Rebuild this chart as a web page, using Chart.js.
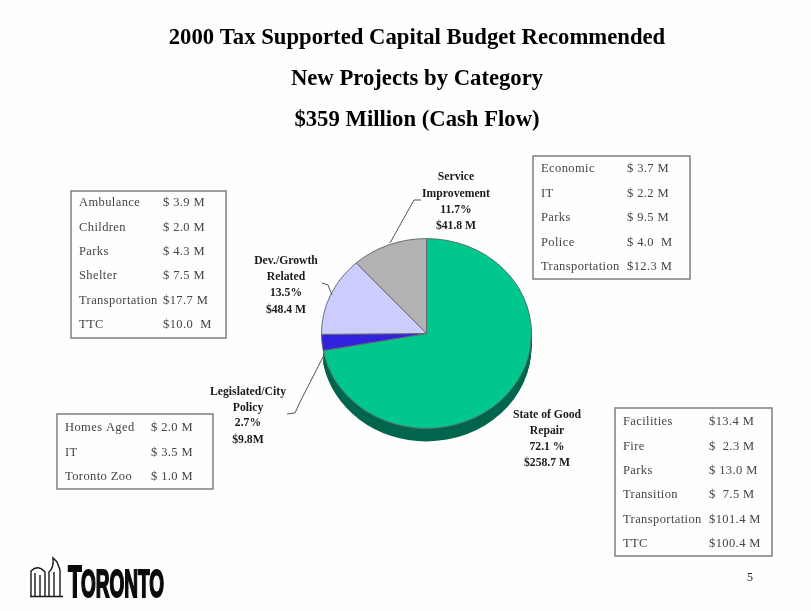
<!DOCTYPE html>
<html>
<head>
<meta charset="utf-8">
<title>2000 Tax Supported Capital Budget</title>
<script src="https://cdn.jsdelivr.net/npm/chart.js@4"></script>
<style>
html, body { margin: 0; padding: 0; background: #fefefe; }
canvas { display: block; filter: blur(0.5px); }
</style>
</head>
<body>
<canvas id="budgetChart" width="811" height="611"></canvas>
<script>
// slices, clockwise from 12 o'clock
let categories = ['State of Good Repair', 'Legislated/City Policy', 'Dev./Growth Related', 'Service Improvement'];
let cashFlow = [258.7, 9.8, 48.4, 41.8];
let sliceColors = ['#00c78c', '#3322dd', '#ccccff', '#b2b2b2'];

let titleLines = ['2000 Tax Supported Capital Budget Recommended', 'New Projects by Category', '$359 Million (Cash Flow)'];

let goodRepairLabel = ['State of Good', 'Repair', '72.1 %', '$258.7 M'];
let legislatedLabel = ['Legislated/City', 'Policy', '2.7%', '$9.8M'];
let growthLabel = ['Dev./Growth', 'Related', '13.5%', '$48.4 M'];
let serviceLabel = ['Service', 'Improvement', '11.7%', '$41.8 M'];

let growthItems = ['Ambulance', 'Children', 'Parks', 'Shelter', 'Transportation', 'TTC'];
let growthAmounts = ['$ 3.9 M', '$ 2.0 M', '$ 4.3 M', '$ 7.5 M', '$17.7 M', '$10.0  M'];
let serviceItems = ['Economic', 'IT', 'Parks', 'Police', 'Transportation'];
let serviceAmounts = ['$ 3.7 M', '$ 2.2 M', '$ 9.5 M', '$ 4.0  M', '$12.3 M'];
let legislatedItems = ['Homes Aged', 'IT', 'Toronto Zoo'];
let legislatedAmounts = ['$ 2.0 M', '$ 3.5 M', '$ 1.0 M'];
let repairItems = ['Facilities', 'Fire', 'Parks', 'Transition', 'Transportation', 'TTC'];
let repairAmounts = ['$13.4 M', '$  2.3 M', '$ 13.0 M', '$  7.5 M', '$101.4 M', '$100.4 M'];

const SERIF = '"Liberation Serif", serif';
const SQUASH = 0.904;   // the pie is drawn tilted, so it is wider than tall
const DEPTH = 13;

function drawTable(ctx, box, items, amounts) {
    ctx.strokeStyle = '#7f7f7f';
    ctx.lineWidth = 1.5;
    ctx.strokeRect(box.x, box.y, box.w, box.h);
    ctx.fillStyle = '#444444';
    ctx.font = '12.5px ' + SERIF;
    ctx.textAlign = 'left';
    ctx.textBaseline = 'middle';
    ctx.letterSpacing = '0.4px';
    items.forEach(function(item, i) {
        let y = box.firstRow + i * box.rowGap;
        ctx.fillText(item, box.x + 8, y);
        ctx.fillText(amounts[i], box.valueX, y);
    });
    ctx.letterSpacing = '0px';
}

function drawLabel(ctx, lines, x, ys) {
    ctx.fillStyle = '#1a1a1a';
    ctx.font = 'bold 11.7px ' + SERIF;
    ctx.textAlign = 'center';
    ctx.textBaseline = 'middle';
    lines.forEach(function(line, i) {
        ctx.fillText(line, x, ys[i]);
    });
}

function drawLeader(ctx, points) {
    ctx.strokeStyle = '#555555';
    ctx.lineWidth = 1;
    ctx.beginPath();
    points.forEach(function(p, i) {
        if (i === 0) {
            ctx.moveTo(p[0], p[1]);
        } else {
            ctx.lineTo(p[0], p[1]);
        }
    });
    ctx.stroke();
}

function drawLogo(ctx) {
    ctx.strokeStyle = '#1a1a1a';
    ctx.lineWidth = 1.4;
    ctx.beginPath();
    // city hall towers and podium
    ctx.moveTo(30, 596.5); ctx.lineTo(63, 596.5);
    ctx.moveTo(31, 596); ctx.lineTo(31, 571); ctx.quadraticCurveTo(38, 564, 45, 572); ctx.lineTo(45, 596);
    ctx.moveTo(35, 596); ctx.lineTo(35, 573);
    ctx.moveTo(40, 596); ctx.lineTo(40, 575);
    ctx.moveTo(49, 596); ctx.lineTo(49, 572); ctx.quadraticCurveTo(54, 568, 53, 558); ctx.lineTo(57, 562); ctx.lineTo(60, 570); ctx.lineTo(60, 596);
    ctx.moveTo(54, 596); ctx.lineTo(54, 572);
    ctx.stroke();

    ctx.fillStyle = '#0a0a0a';
    ctx.strokeStyle = '#0a0a0a';
    ctx.lineWidth = 2;
    ctx.textAlign = 'left';
    ctx.textBaseline = 'alphabetic';
    ctx.save();
    ctx.translate(68, 597);
    ctx.scale(0.5, 1);
    ctx.font = 'bold 45px "Liberation Sans", sans-serif';
    ctx.fillText('T', 0, 0);
    ctx.strokeText('T', 0, 0);
    ctx.font = 'bold 38px "Liberation Sans", sans-serif';
    ctx.fillText('ORONTO', 26, 0);
    ctx.strokeText('ORONTO', 26, 0);
    ctx.restore();
}

// flattens the arcs and lays the darker side wall under them
let tiltPlugin = {
    id: 'tilt',
    beforeDatasetsDraw: function(chart) {
        let ctx = chart.ctx;
        let arc = chart.getDatasetMeta(0).data[0];
        ctx.save();
        ctx.translate(arc.x, arc.y);
        ctx.scale(1, SQUASH);
        ctx.translate(-arc.x, -arc.y);
        ctx.fillStyle = '#00664c';
        for (let i = DEPTH / SQUASH; i > 0; i--) {
            ctx.beginPath();
            ctx.moveTo(arc.x, arc.y + i);
            ctx.arc(arc.x, arc.y + i, arc.outerRadius, arc.startAngle, arc.endAngle);
            ctx.closePath();
            ctx.fill();
        }
    },
    afterDatasetsDraw: function(chart) {
        chart.ctx.restore();
    }
};

let slideTextPlugin = {
    id: 'slideText',
    beforeDraw: function(chart) {
        let ctx = chart.ctx;
        ctx.save();
        ctx.fillStyle = '#fefefe';
        ctx.fillRect(0, 0, chart.width, chart.height);
        ctx.restore();
    },
    afterDraw: function(chart) {
        let ctx = chart.ctx;
        ctx.save();

        ctx.fillStyle = '#000000';
        ctx.font = 'bold 22.7px ' + SERIF;
        ctx.textAlign = 'center';
        ctx.textBaseline = 'middle';
        titleLines.forEach(function(line, i) {
            ctx.fillText(line, 417, 38 + i * 41);
        });

        drawLeader(ctx, [[390, 243], [414, 200], [421, 200]]);
        drawLeader(ctx, [[322, 283], [328, 285], [332, 295]]);
        drawLeader(ctx, [[323, 357], [300, 402], [295, 413], [287, 414]]);

        drawLabel(ctx, serviceLabel, 456, [177, 194, 210, 226]);
        drawLabel(ctx, growthLabel, 286, [261, 277, 293, 310]);
        drawLabel(ctx, legislatedLabel, 248, [392, 408, 423, 440]);
        drawLabel(ctx, goodRepairLabel, 547, [415, 431, 447, 463]);

        drawTable(ctx, { x: 71, y: 191, w: 155, h: 147, firstRow: 203, rowGap: 24.4, valueX: 163 }, growthItems, growthAmounts);
        drawTable(ctx, { x: 533, y: 156, w: 157, h: 123, firstRow: 169, rowGap: 24.5, valueX: 627 }, serviceItems, serviceAmounts);
        drawTable(ctx, { x: 57, y: 414, w: 156, h: 75, firstRow: 428, rowGap: 24.5, valueX: 151 }, legislatedItems, legislatedAmounts);
        drawTable(ctx, { x: 615, y: 408, w: 157, h: 148, firstRow: 422, rowGap: 24.4, valueX: 709 }, repairItems, repairAmounts);

        drawLogo(ctx);

        ctx.fillStyle = '#222222';
        ctx.font = '12px ' + SERIF;
        ctx.textAlign = 'center';
        ctx.textBaseline = 'middle';
        ctx.fillText('5', 750, 578);

        ctx.restore();
    }
};

let ctx1 = document.getElementById('budgetChart').getContext('2d');

let myChart1 = new Chart(ctx1, {
    type: 'pie',
    data: {
        labels: categories,
        datasets: [{
            data: cashFlow,
            backgroundColor: sliceColors,
            borderColor: '#5f6b70',
            borderWidth: 1
        }]
    },
    options: {
        responsive: false,
        animation: false,
        layout: {
            padding: { left: 321, right: 279, top: 228, bottom: 172 }
        },
        plugins: {
            legend: { display: false },
            tooltip: { enabled: false }
        }
    },
    plugins: [slideTextPlugin, tiltPlugin]
});
</script>
</body>
</html>
